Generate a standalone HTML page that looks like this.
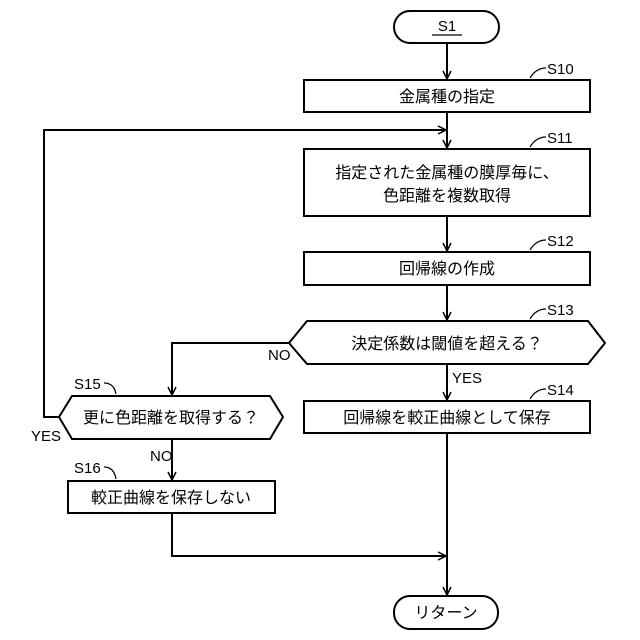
<!DOCTYPE html>
<html><head><meta charset="utf-8"><style>
html,body{margin:0;padding:0;background:#fff;}
svg{display:block;}
text{font-family:"Liberation Sans","Noto Sans CJK JP",sans-serif;fill:#000;}
.b{font-size:16px;}
.l{font-size:15px;}
</style></head><body>
<svg width="640" height="640" viewBox="0 0 640 640" xmlns="http://www.w3.org/2000/svg">
<defs><marker id="a" markerWidth="10" markerHeight="10" refX="9" refY="5" orient="auto" markerUnits="userSpaceOnUse"><path d="M1,1 L9,5 L1,9" fill="none" stroke="#000" stroke-width="1.5"/></marker></defs>
<g fill="none" stroke="#000" stroke-width="2">
<rect x="394" y="11" width="105" height="32" rx="16"/>
<rect x="304" y="80" width="286" height="32"/>
<rect x="304" y="149" width="286" height="67"/>
<rect x="304" y="252" width="286" height="33"/>
<polygon points="289,343 307,321 588,321 605,343 588,364 307,364"/>
<rect x="304" y="401" width="286" height="32"/>
<polygon points="59,417 72,396 270,396 283,417 270,439 72,439"/>
<rect x="68" y="481" width="207" height="32"/>
<rect x="394" y="596" width="104" height="33" rx="16"/>
<line x1="447" y1="43" x2="447" y2="79" marker-end="url(#a)"/>
<line x1="447" y1="112" x2="447" y2="148" marker-end="url(#a)"/>
<polyline points="59,417 44,417 44,130 446,130" marker-end="url(#a)"/>
<line x1="447" y1="216" x2="447" y2="251" marker-end="url(#a)"/>
<line x1="447" y1="285" x2="447" y2="320" marker-end="url(#a)"/>
<line x1="447" y1="364" x2="447" y2="400" marker-end="url(#a)"/>
<polyline points="289,343 172,343 172,395" marker-end="url(#a)"/>
<line x1="172" y1="439" x2="172" y2="480" marker-end="url(#a)"/>
<polyline points="172,513 172,556 446,556" marker-end="url(#a)"/>
<line x1="447" y1="433" x2="447" y2="595" marker-end="url(#a)"/>
</g>
<g fill="none" stroke="#000" stroke-width="1.2">
<path d="M530,78 Q536,68 546,68"/>
<path d="M530,147 Q536,137 546,137"/>
<path d="M530,250 Q536,240 546,240"/>
<path d="M530,319 Q536,309 546,309"/>
<path d="M530,399 Q536,389 546,389"/>
<path d="M104,383 Q114,383 116,394"/>
<path d="M104,467 Q114,467 116,479"/>
<line x1="432" y1="35" x2="462" y2="35"/>
</g>
<text x="447" y="31" class="l" text-anchor="middle">S1</text>
<text x="547" y="74" class="l">S10</text>
<text x="547" y="143" class="l">S11</text>
<text x="547" y="246" class="l">S12</text>
<text x="547" y="315" class="l">S13</text>
<text x="547" y="395" class="l">S14</text>
<text x="74" y="389" class="l">S15</text>
<text x="74" y="473" class="l">S16</text>
<text x="268" y="360" class="l">NO</text>
<text x="452" y="383" class="l">YES</text>
<text x="150" y="461" class="l">NO</text>
<text x="31" y="441" class="l">YES</text>
<text x="447" y="102" class="b" text-anchor="middle">金属種の指定</text>
<text x="447" y="178" class="b" text-anchor="middle">指定された金属種の膜厚毎に、</text>
<text x="447" y="201" class="b" text-anchor="middle">色距離を複数取得</text>
<text x="447" y="274" class="b" text-anchor="middle">回帰線の作成</text>
<text x="447" y="349" class="b" text-anchor="middle">決定係数は閾値を超える？</text>
<text x="447" y="423" class="b" text-anchor="middle">回帰線を較正曲線として保存</text>
<text x="171" y="423" class="b" text-anchor="middle">更に色距離を取得する？</text>
<text x="171" y="503" class="b" text-anchor="middle">較正曲線を保存しない</text>
<text x="446" y="618" class="b" text-anchor="middle">リターン</text>
</svg>
</body></html>
